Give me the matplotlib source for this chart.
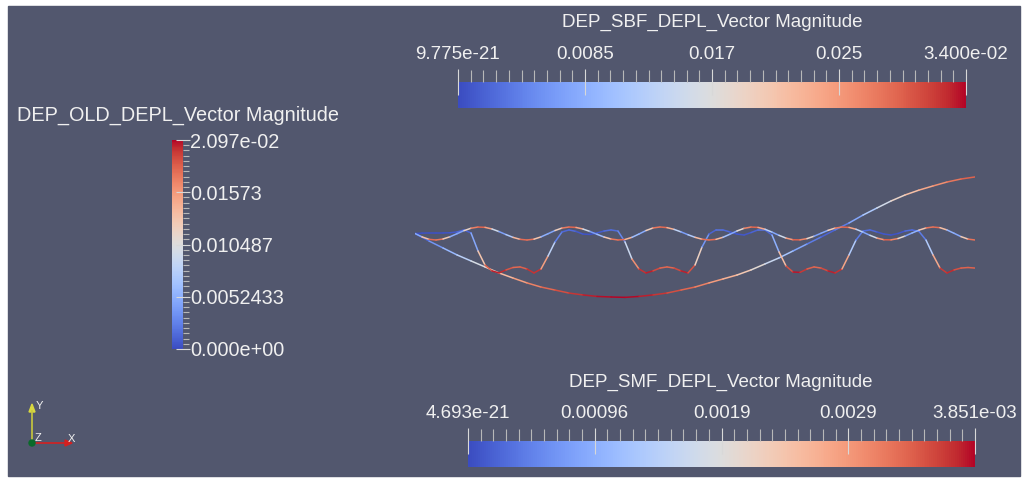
import numpy as np
import matplotlib
matplotlib.use("Agg")
import matplotlib.pyplot as plt
from matplotlib.collections import LineCollection
from matplotlib.colors import Normalize
from matplotlib.cm import ScalarMappable
from matplotlib.ticker import FixedLocator
from matplotlib.patches import Rectangle, Circle, Polygon

plt.rcParams["font.family"] = ["Liberation Sans", "DejaVu Sans"]

# vertical displacement along the beam (mm), stations equally spaced from 0 to 1
sbf_disp = [0.0, -4.0, -7.7, -11.4, -14.6, -17.8, -21.0, -23.7, -26.3, -28.5,
            -30.1, -31.7, -32.7, -33.5, -33.8, -34.0, -33.5, -32.7, -31.7, -30.1,
            -28.5, -26.3, -24.2, -22.1, -19.4, -16.2, -13.0, -9.3, -5.6, -1.9,
            1.9, 5.6, 9.8, 13.6, 17.3, 20.5, 23.1, 25.3, 27.4, 29.0, 30.1]

smf_disp = [0.0, -1.8, -3.1, -3.46, -2.93, -1.73, -0.12, 1.52, 2.80, 3.43,
            3.27, 2.40, 1.02, -0.58, -2.06, -3.09, -3.46, -3.02, -1.80, -0.13,
            1.58, 2.89, 3.45, 3.22, 2.37, 1.07, -0.43, -1.85, -2.92, -3.43,
            -3.20, -2.03, -0.27, 1.57, 2.94, 3.46, 3.13, 2.20, 0.86, -0.65,
            -2.03, -3.03, -3.45, -3.13, -2.01, -0.38, 1.35, 2.73, 3.42, 3.24,
            2.27, 0.73, -0.98, -2.45, -3.32, -3.39, -2.72, -1.46, 0.12, 1.67,
            2.86, 3.43, 3.24, 2.27, 0.73, -0.98, -2.45, -3.32, -3.39, -2.69,
            -1.38, 0.24, 1.80, 2.96, 3.45, 3.10, 1.88, 0.13, -1.66, -2.98, -3.46]

old_disp = [0.0, 0.2, 0.3, 0.3, 0.3, 0.4, 0.8, 1.9, 0.3, -9.3,
            -16.8, -19.9, -21.0, -19.4, -18.1, -17.8, -18.9, -21.0, -18.9, -12.0,
            -4.5, 0.8, 1.9, 1.1, -0.3, -0.5, 0.3, 1.3, 1.9, 1.3,
            -4.5, -13.6, -18.9, -21.0, -19.9, -18.4, -17.8, -18.4, -19.9, -21.0,
            -16.8, -7.2, -0.3, 1.9, 1.9, 0.8, -0.3, -0.8, 0.5, 1.9,
            1.9, -0.8, -9.8, -17.3, -20.5, -20.7, -18.9, -17.8, -18.4, -19.9,
            -21.0, -18.9, -11.4, -3.5, 1.3, 1.9, 0.8, -0.3, -0.8, 0.0,
            1.3, 1.9, 1.1, -3.5, -11.4, -18.4, -21.0, -19.4, -18.4, -18.1, -18.4]

# colour ranges (m) and labels of the three scalar bars
sbf_range = (9.775e-21, 0.034)
sbf_labels = ["9.775e-21", "0.0085", "0.017", "0.025", "3.400e-02"]
smf_range = (4.693e-21, 3.851e-03)
smf_labels = ["4.693e-21", "0.00096", "0.0019", "0.0029", "3.851e-03"]
old_range = (0.0, 0.0209732)
old_labels = ["0.000e+00", "0.0052433", "0.010487", "0.01573", "2.097e-02"]

BG = "#52576e"
TXT = "#f0f0f0"
FS = 13.5
FS_LEFT = 14.3
W, H = 1022, 478
cmap = plt.get_cmap("coolwarm")

fig = plt.figure(figsize=(W / 100, H / 100), dpi=100, facecolor="white")

# pixel-space overlay for background, titles and orientation triad
bg = fig.add_axes([0, 0, 1, 1])
bg.set_xlim(0, W)
bg.set_ylim(H, 0)
bg.axis("off")
bg.add_patch(Rectangle((8, 6), 1012, 470, color=BG, zorder=0))


def px_axes(x0, y0, x1, y1):
    return fig.add_axes([x0 / W, (H - y1) / H, (x1 - x0) / W, (y1 - y0) / H])


# deformed beams, coloured by displacement magnitude
ax = px_axes(415, 170, 975, 300)
ax.set_xlim(0, 1)
ax.set_ylim(-35.4, 33.8)
ax.axis("off")
ax.patch.set_alpha(0)

for disp, rng in [(sbf_disp, sbf_range), (old_disp, old_range), (smf_disp, smf_range)]:
    y = np.array(disp)
    x = np.linspace(0, 1, len(y))
    pts = np.column_stack([x, y])
    segs = np.stack([pts[:-1], pts[1:]], axis=1)
    mag = np.abs(y) / 1000.0
    lc = LineCollection(segs, cmap=cmap, norm=Normalize(*rng), linewidths=1.1,
                        capstyle="round", joinstyle="round")
    lc.set_array((mag[:-1] + mag[1:]) / 2)
    ax.add_collection(lc)


def scalar_bar(cax, rng, labels, orientation, fs):
    norm = Normalize(*rng)
    cb = fig.colorbar(ScalarMappable(norm=norm, cmap=cmap), cax=cax,
                      orientation=orientation)
    cb.outline.set_visible(False)
    lo, hi = rng
    ticks = [lo + (hi - lo) * f for f in (0, 0.25, 0.5, 0.75, 1.0)]
    cb.set_ticks(ticks, labels=labels)
    minor = [lo + (hi - lo) * k / 40 for k in range(1, 40)]
    axis = cax.xaxis if orientation == "horizontal" else cax.yaxis
    axis.set_minor_locator(FixedLocator(minor))
    if orientation == "horizontal":
        axis.set_ticks_position("top")
        axis.set_label_position("top")
        cax.tick_params(which="minor", direction="out", length=8.6, width=0.8,
                        color="#b8b8b8")
        cax.tick_params(which="major", direction="inout", length=19, width=0.8,
                        color="#d8d8d8", labelsize=fs, labelcolor=TXT, pad=4)
    else:
        axis.set_ticks_position("right")
        cax.tick_params(which="minor", direction="out", length=4.3, width=0.8,
                        color="#b8b8b8")
        cax.tick_params(which="major", direction="inout", length=10, width=0.8,
                        color="#d8d8d8", labelsize=fs, labelcolor=TXT, pad=0)
    return cb


scalar_bar(px_axes(458, 82, 966, 108), sbf_range, sbf_labels, "horizontal", FS)
scalar_bar(px_axes(468, 441, 975, 467), smf_range, smf_labels, "horizontal", FS)
scalar_bar(px_axes(172, 140, 183, 349), old_range, old_labels, "vertical", FS_LEFT)

bg.text(712, 22, "DEP_SBF_DEPL_Vector Magnitude", color=TXT, fontsize=FS,
        ha="center", va="center")
bg.text(721, 382, "DEP_SMF_DEPL_Vector Magnitude", color=TXT, fontsize=FS,
        ha="center", va="center")
bg.text(17, 115, "DEP_OLD_DEPL_Vector Magnitude", color=TXT, fontsize=FS_LEFT,
        ha="left", va="center")

# orientation triad
ox, oy = 32, 443
bg.plot([ox, ox], [oy, 411], color="#c8c83c", lw=1.2)
bg.add_patch(Polygon([[ox - 3, 412], [ox + 3, 412], [ox, 404]], color="#d8d840"))
bg.plot([ox, 66], [oy, oy], color="#d42020", lw=1.2)
bg.add_patch(Polygon([[65, oy - 3], [65, oy + 3], [72, oy]], color="#d42020"))
bg.add_patch(Circle((ox, oy), 3, color="#0a6a2a", zorder=5))
bg.text(36, 406, "Y", color=TXT, fontsize=8, ha="left", va="center")
bg.text(35, 438, "Z", color=TXT, fontsize=8, ha="left", va="center")
bg.text(68, 439, "X", color=TXT, fontsize=8, ha="left", va="center")

fig.savefig("out.png", dpi=100, facecolor="white")
